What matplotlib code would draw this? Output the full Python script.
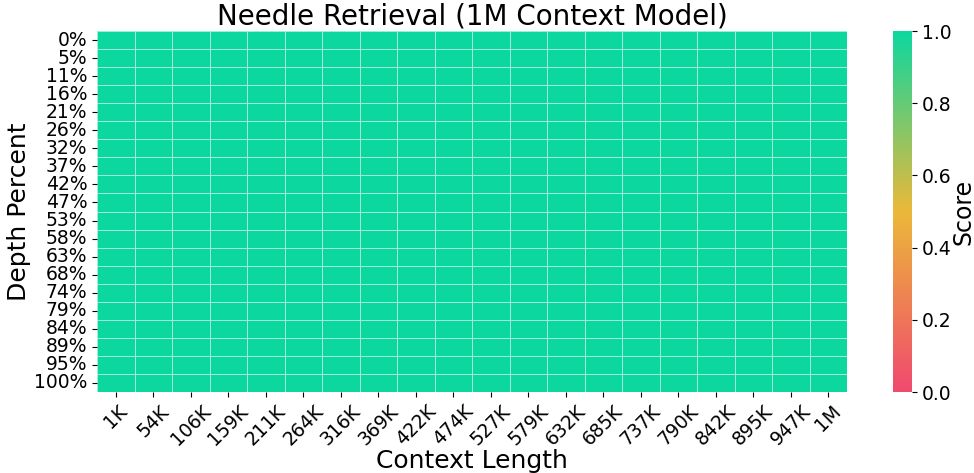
import numpy as np
import pandas as pd
import matplotlib
matplotlib.use("Agg")
import matplotlib.pyplot as plt
import seaborn as sns
from matplotlib.colors import LinearSegmentedColormap

context_lengths = ["1K", "54K", "106K", "159K", "211K", "264K", "316K", "369K", "422K", "474K",
                   "527K", "579K", "632K", "685K", "737K", "790K", "842K", "895K", "947K", "1M"]
depth_percents = ["0%", "5%", "11%", "16%", "21%", "26%", "32%", "37%", "42%", "47%",
                  "53%", "58%", "63%", "68%", "74%", "79%", "84%", "89%", "95%", "100%"]
# every cell scored 1.0
scores = np.ones((len(depth_percents), len(context_lengths)))

df = pd.DataFrame(scores, index=depth_percents, columns=context_lengths)

cmap = LinearSegmentedColormap.from_list("custom_cmap", ["#F0496E", "#EBB839", "#0CD79F"])

fig = plt.figure(figsize=(9.74, 4.73), dpi=100)
ax = fig.add_axes([97 / 974, 1 - 392 / 473, 750 / 974, 361 / 473])
cax = fig.add_axes([893 / 974, 1 - 392 / 473, 19 / 974, 361 / 473])

sns.heatmap(df, ax=ax, cbar_ax=cax, cmap=cmap, vmin=0, vmax=1,
            linewidths=0.5, linecolor=(1, 1, 1, 0.6))

ax.set_title("Needle Retrieval (1M Context Model)", fontsize=20, pad=3)
ax.set_xlabel("Context Length", fontsize=18, labelpad=0)
ax.set_ylabel("Depth Percent", fontsize=18, labelpad=2)
ax.set_xticklabels(context_lengths, rotation=45, fontsize=13.5)
ax.set_yticklabels(depth_percents, rotation=0, fontsize=13.5)

cax.tick_params(labelsize=13.5)
cax.set_ylabel("Score", fontsize=17, labelpad=0)

fig.savefig("out.png", dpi=100)
